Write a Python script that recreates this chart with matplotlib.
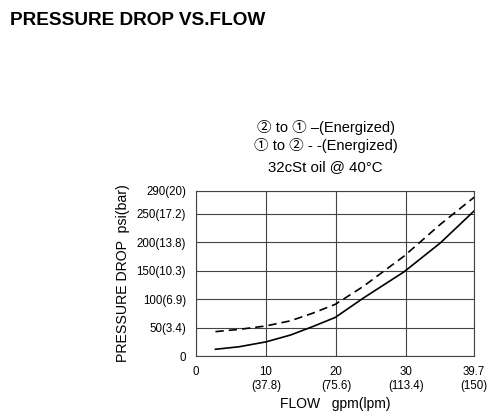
import matplotlib

matplotlib.use("Agg")
import matplotlib.pyplot as plt

plt.rcParams["font.family"] = ["Liberation Sans", "DejaVu Sans", "Noto Sans CJK SC"]

# flow in gpm, pressure drop in psi
flow = [2.8, 6.2, 10, 13.5, 16.7, 19.9, 23.9, 29.7, 34.9, 39.7]
psi_2to1 = [12, 16.5, 25, 37, 52, 68, 102, 148, 199, 255]
psi_1to2 = [43, 47, 53, 62, 75.5, 91, 122.5, 175.6, 231.6, 279]

x_ticks = [0, 10, 20, 30, 39.7]
x_labels = ["0", "10\n(37.8)", "20\n(75.6)", "30\n(113.4)", "39.7\n(150)"]
y_ticks = [0, 50, 100, 150, 200, 250, 290]
y_labels = ["0", "50(3.4)", "100(6.9)", "150(10.3)", "200(13.8)", "250(17.2)", "290(20)"]

fig = plt.figure(figsize=(4.97, 4.17), dpi=100)
ax = fig.add_axes([0.394, 0.146, 0.56, 0.396])

ax.plot(flow, psi_2to1, color="black", linewidth=1.2)
ax.plot(flow, psi_1to2, color="black", linewidth=1.2, linestyle=(0, (5, 3)))

ax.set_xlim(0, 39.7)
ax.set_ylim(0, 290)
ax.set_xticks(x_ticks)
ax.set_xticklabels(x_labels, fontsize=8.3)
ax.set_yticks(y_ticks)
ax.set_yticklabels(y_labels, fontsize=8.3)
ax.tick_params(length=0, pad=7)
ax.grid(True, color="#444444", linewidth=0.8)
for s in ax.spines.values():
    s.set_color("#444444")
    s.set_linewidth(0.8)

ax.set_xlabel("FLOW   gpm(lpm)", fontsize=10, labelpad=4)
ax.set_ylabel("PRESSURE DROP  psi(bar)", fontsize=10.2, labelpad=5)

fig.text(0.02, 0.952, "PRESSURE DROP VS.FLOW", fontsize=13.7, fontweight="bold", va="center")

legend_font = ["Liberation Sans", "Noto Sans CJK SC", "DejaVu Sans"]
fig.text(0.655, 0.695, "② to ① –(Energized)", fontsize=10.5, ha="center", va="center",
         family=legend_font)
fig.text(0.655, 0.652, "① to ② - -(Energized)", fontsize=10.5, ha="center", va="center",
         family=legend_font)
fig.text(0.655, 0.600, "32cSt oil @ 40°C", fontsize=10.8, ha="center", va="center")

fig.savefig("out.png", dpi=100)
